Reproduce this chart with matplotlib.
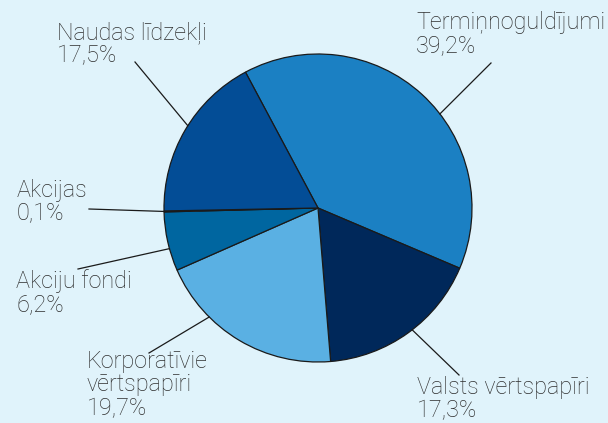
import matplotlib.pyplot as plt
import numpy as np

# data
labels = ['Termiņnoguldījumi', 'Valsts vērtspapīri', 'Korporatīvie\nvērtspapīri',
          'Akciju fondi', 'Akcijas', 'Naudas līdzekļi']
values = [39.2, 17.3, 19.7, 6.2, 0.1, 17.5]
colors = ['#1b80c3', '#00285a', '#5ab0e3', '#0066a0', '#b8c8d8', '#034d96']

# layout (pixel coords, y from top)
W, H = 608, 423
cx, cy, r = 318, 208, 154
text_pos = [(416, 11), (417, 376), (87, 350), (16, 269), (17, 179), (57, 21)]
line_start = [(491, 63), (459, 375), (149, 353), (78, 269), (89, 209), (135, 62)]
edge_frac = [0.43, 0.53, 0.30, 0.62, 0.5, 0.47]

fig = plt.figure(figsize=(W / 100, H / 100), dpi=100)
fig.patch.set_facecolor('#e0f3fb')
ax = fig.add_axes([0, 0, 1, 1])
ax.set_facecolor('#e0f3fb')

wedges, _ = ax.pie(values, colors=colors, startangle=118.1, counterclock=False,
                   center=(cx, H - cy), radius=r,
                   wedgeprops=dict(edgecolor='#1a1a1a', linewidth=0.9))
ax.set_xlim(0, W)
ax.set_ylim(0, H)
ax.set_aspect('equal')
ax.axis('off')

for w, lab, v, tp, ls, f in zip(wedges, labels, values, text_pos, line_start, edge_frac):
    # w.theta1 is the smaller angle
    ang = np.deg2rad(w.theta1 + f * (w.theta2 - w.theta1))
    ex = cx + r * np.cos(ang)
    ey = H - cy + r * np.sin(ang)
    ax.plot([ls[0], ex], [H - ls[1], ey], color='#1a1a1a', lw=0.9)
    txt = lab + '\n' + ('%.1f%%' % v).replace('.', ',')
    ax.text(tp[0], H - tp[1], txt, ha='left', va='top', fontsize=16.8,
            color='#2e2e2e', linespacing=1.02, fontweight='light',
            family=['Roboto', 'DejaVu Sans'])

fig.savefig('out.png', dpi=100, facecolor=fig.get_facecolor())
